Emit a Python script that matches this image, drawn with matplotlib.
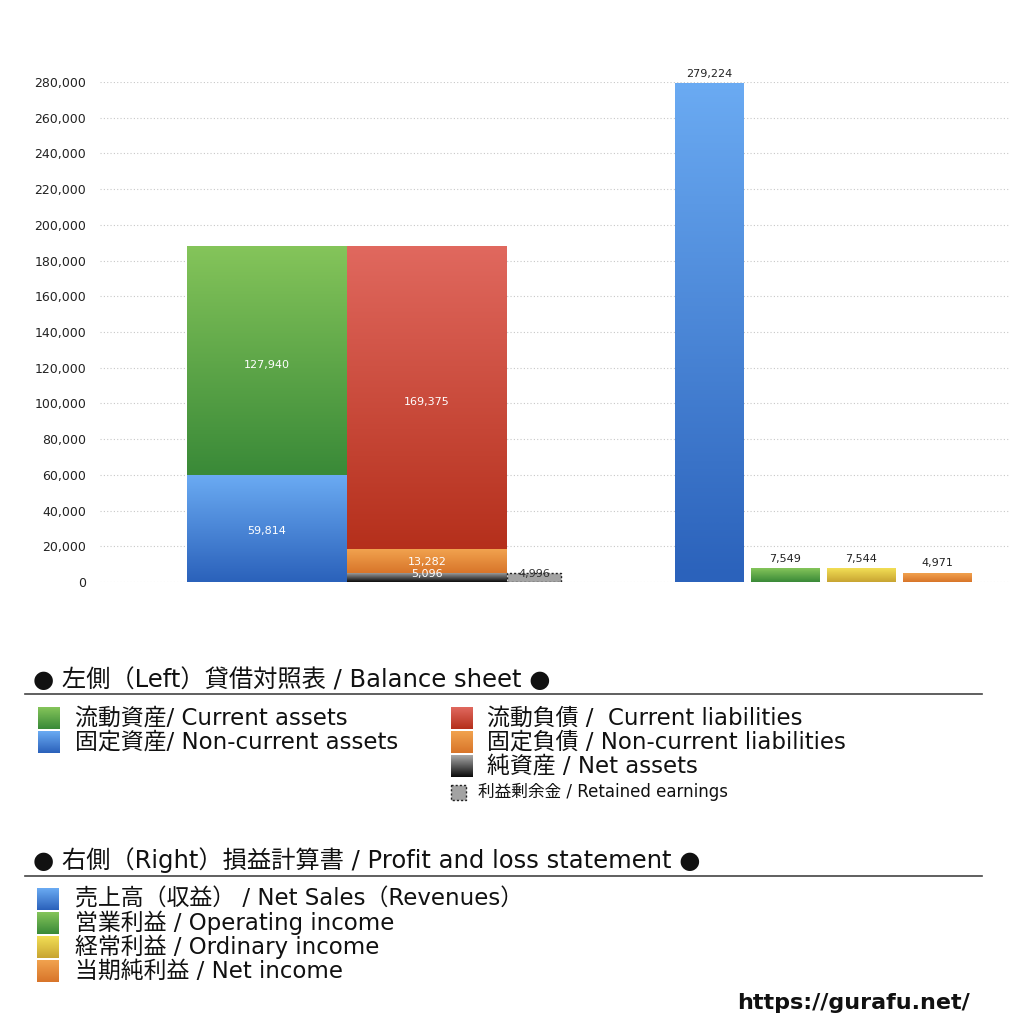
import numpy as np
import matplotlib
matplotlib.use("Agg")
import matplotlib.pyplot as plt
from matplotlib.colors import LinearSegmentedColormap
from matplotlib.patches import Rectangle

plt.rcParams['font.family'] = ['DejaVu Sans', 'Noto Sans CJK JP']

# 貸借対照表 (左側)
assets_labels = ['固定資産/ Non-current assets', '流動資産/ Current assets']
assets_values = [59814, 127940]
liab_labels = ['純資産 / Net assets', '固定負債 / Non-current liabilities', '流動負債 /  Current liabilities']
liab_values = [5096, 13282, 169375]
retained_label = '利益剰余金 / Retained earnings'
retained_value = 4996

# 損益計算書 (右側)
pl_labels = ['売上高（収益） / Net Sales（Revenues）', '営業利益 / Operating income',
             '経常利益 / Ordinary income', '当期純利益 / Net income']
pl_values = [279224, 7549, 7544, 4971]

yticks = list(range(0, 280001, 20000))

# gradient colours (top, bottom)
GREEN = ('#84c45a', '#3a8a38')
BLUE = ('#6aaaf2', '#2b62bb')
RED = ('#e0685e', '#b5301c')
ORANGE = ('#f1a24e', '#d8752a')
BLACK = ('#a8a8a8', '#0c0c0c')
YELLOW = ('#f2de55', '#c8a532')


def grad_fill(ax, x0, x1, y0, y1, colors, z=3):
    cmap = LinearSegmentedColormap.from_list('g', [colors[1], colors[0]])
    g = np.linspace(0, 1, 64).reshape(-1, 1)
    ax.imshow(g, cmap=cmap, extent=(x0, x1, y0, y1), origin='lower',
              aspect='auto', zorder=z, interpolation='bilinear')


def grad_bars(ax, bars, colors):
    for b in bars:
        b.set_visible(False)
        grad_fill(ax, b.get_x(), b.get_x() + b.get_width(),
                  b.get_y(), b.get_y() + b.get_height(), colors)


fig = plt.figure(figsize=(10.24, 10.24), dpi=100)
ax = fig.add_axes([100 / 1024, 1 - 582 / 1024, 910 / 1024, 500 / 1024])

# bar positions (axes units = pixels from plot left)
x_assets, w_big = 167, 160
x_liab = 327
x_ret, w_ret = 434, 54
x_pl = [609.5, 685.5, 761.5, 837.5]
w_pl = 69

# left side
b = ax.bar(x_assets, assets_values[0], w_big)
grad_bars(ax, b, BLUE)
b = ax.bar(x_assets, assets_values[1], w_big, bottom=assets_values[0])
grad_bars(ax, b, GREEN)

bottom = 0
for v, c in zip(liab_values, [BLACK, ORANGE, RED]):
    b = ax.bar(x_liab, v, w_big, bottom=bottom)
    grad_bars(ax, b, c)
    bottom += v

ax.bar(x_ret, retained_value, w_ret, color='#a3a3a3', edgecolor='#222222',
       linestyle=(0, (1.5, 1.5)), linewidth=1, zorder=3)

# right side
for x, v, c in zip(x_pl, pl_values, [BLUE, GREEN, YELLOW, ORANGE]):
    b = ax.bar(x, v, w_pl)
    grad_bars(ax, b, c)
    ax.text(x, v + 2600, f'{v:,}', ha='center', va='bottom', fontsize=8,
            color='#222222', zorder=5)

# labels inside bars
def inner(x, y, v, color='white'):
    ax.text(x, y, f'{v:,}', ha='center', va='center', fontsize=8,
            color=color, zorder=5)

inner(x_assets, assets_values[0] * 0.5 - 1500, assets_values[0])
inner(x_assets, assets_values[0] + assets_values[1] * 0.5 - 2000, assets_values[1])
inner(x_liab, liab_values[0] + liab_values[1] + liab_values[2] * 0.5 - 2500, liab_values[2])
inner(x_liab, 11000, liab_values[1])
inner(x_liab, 4500, liab_values[0])
inner(x_ret, 4400, retained_value, color='#333333')

ax.set_xlim(0, 910)
ax.set_ylim(0, 280000)
ax.set_yticks(yticks)
ax.set_yticklabels([f'{t:,}' for t in yticks], fontsize=9, color='#222222')
ax.set_xticks([])
ax.tick_params(axis='y', length=0, pad=10)
for s in ax.spines.values():
    s.set_visible(False)
ax.grid(axis='y', color='#c8c8c8', linestyle=(0, (1, 2)), linewidth=0.8, zorder=0)
ax.set_axisbelow(True)

# legend area in pixel coordinates
lg = fig.add_axes([0, 0, 1, 1], zorder=-1)
lg.set_xlim(0, 1024)
lg.set_ylim(1024, 0)
lg.axis('off')


def leg_square(x, y, s, colors):
    cmap = LinearSegmentedColormap.from_list('g', [colors[1], colors[0]])
    g = np.linspace(0, 1, 32).reshape(-1, 1)
    lg.imshow(g, cmap=cmap, extent=(x, x + s, y + s, y), origin='lower',
              aspect='auto', interpolation='bilinear')


lg.text(33, 680, '● 左側（Left）貸借対照表 / Balance sheet ●', fontsize=17.5,
        va='center', ha='left', color='#111111')
lg.plot([25, 982], [694, 694], color='#444444', lw=1.2)

for y, lab, c in zip([718, 742], [assets_labels[1], assets_labels[0]], [GREEN, BLUE]):
    leg_square(38, y - 11, 22, c)
    lg.text(75, y, lab, fontsize=16.5, va='center', ha='left', color='#111111')

for y, lab, c in zip([718, 742, 766], [liab_labels[2], liab_labels[1], liab_labels[0]],
                     [RED, ORANGE, BLACK]):
    leg_square(451, y - 11, 22, c)
    lg.text(487, y, lab, fontsize=16.5, va='center', ha='left', color='#111111')

lg.add_patch(Rectangle((451, 785), 15, 15, facecolor='#a3a3a3', edgecolor='#222222',
                       linestyle=(0, (1.5, 1.5)), linewidth=1))
lg.text(478, 792, retained_label, fontsize=12, va='center', ha='left', color='#111111')

lg.text(33, 860, '● 右側（Right）損益計算書 / Profit and loss statement ●', fontsize=17.5,
        va='center', ha='left', color='#111111')
lg.plot([25, 982], [876, 876], color='#444444', lw=1.2)

for y, lab, c in zip([899, 923, 947, 971], pl_labels, [BLUE, GREEN, YELLOW, ORANGE]):
    leg_square(37, y - 11, 22, c)
    lg.text(75, y, lab, fontsize=16.5, va='center', ha='left', color='#111111')

lg.text(970, 1003, 'https://gurafu.net/', fontsize=16, fontweight='bold',
        va='center', ha='right', color='#111111')

fig.savefig('out.png', dpi=100, facecolor='white')
